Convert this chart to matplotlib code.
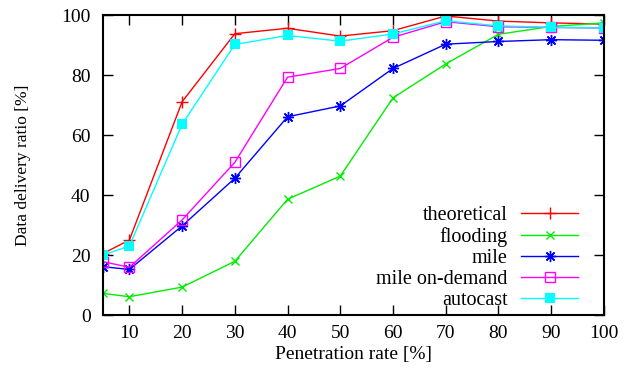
import matplotlib
matplotlib.use("Agg")
import matplotlib.pyplot as plt
import numpy as np

# 普通の serif (Times 風) フォント
plt.rcParams["font.family"] = ["Liberation Serif", "DejaVu Serif"]
plt.rcParams["mathtext.fontset"] = "stix"

rate = [5, 10, 20, 30, 40, 50, 60, 70, 80, 90, 100]
theoretical = [20.5, 25.0, 71.1, 93.8, 95.6, 93.0, 94.8, 99.7, 98.0, 97.4, 97.0]
flooding = [7.2, 6.1, 9.3, 17.9, 38.6, 46.3, 72.4, 83.7, 93.6, 96.2, 97.4]
mile = [16.1, 15.2, 29.7, 45.6, 66.1, 69.7, 82.2, 90.3, 91.2, 91.8, 91.6]
mile_on_demand = [17.8, 15.9, 31.7, 50.9, 79.3, 82.2, 92.6, 97.8, 96.1, 95.9, 95.7]
autocast = [20.0, 23.0, 63.6, 90.2, 93.2, 91.3, 93.7, 98.1, 96.4, 95.9, 95.7]

fig = plt.figure(figsize=(6.34, 3.68), dpi=100)
ax = fig.add_axes([0.1625, 0.144, 0.79, 0.815])

ax.plot(rate, theoretical, color="#ff0000", lw=1, marker="+", ms=8, mew=1, label="theoretical")
ax.plot(rate, flooding, color="#00ee00", lw=1, marker="x", ms=6, mew=1, label="flooding")
ax.plot(rate, mile, color="#0000ff", lw=1, marker=(8, 2, 0), ms=8, mew=1, label="mile")
ax.plot(rate, mile_on_demand, color="#ff00ff", lw=1, marker="s", ms=7, mew=1,
        mfc="none", label="mile on-demand")
ax.plot(rate, autocast, color="#00ffff", lw=1, marker="s", ms=7, mew=0, label="autocast")

ax.set_xlim(5, 100)
ax.set_ylim(0, 100)
ax.set_xticks(np.arange(10, 101, 10))
ax.set_yticks(np.arange(0, 101, 20))
ax.tick_params(direction="in", length=7, width=1, top=True, right=True, labelsize=14)
ax.tick_params(axis="x", pad=7)
ax.tick_params(axis="y", pad=9)
for s in ax.spines.values():
    s.set_linewidth(1.5)

ax.set_xlabel("Penetration rate [%]", fontsize=14, labelpad=3)
ax.set_ylabel("Data delivery ratio [%]", fontsize=12.5, labelpad=22)

ax.legend(loc="lower right", frameon=False, markerfirst=False, fontsize=14.5,
          handlelength=2.85, handletextpad=0.65, labelspacing=0.1,
          bbox_to_anchor=(0.985, -0.044))

plt.savefig("out.png", dpi=100)
